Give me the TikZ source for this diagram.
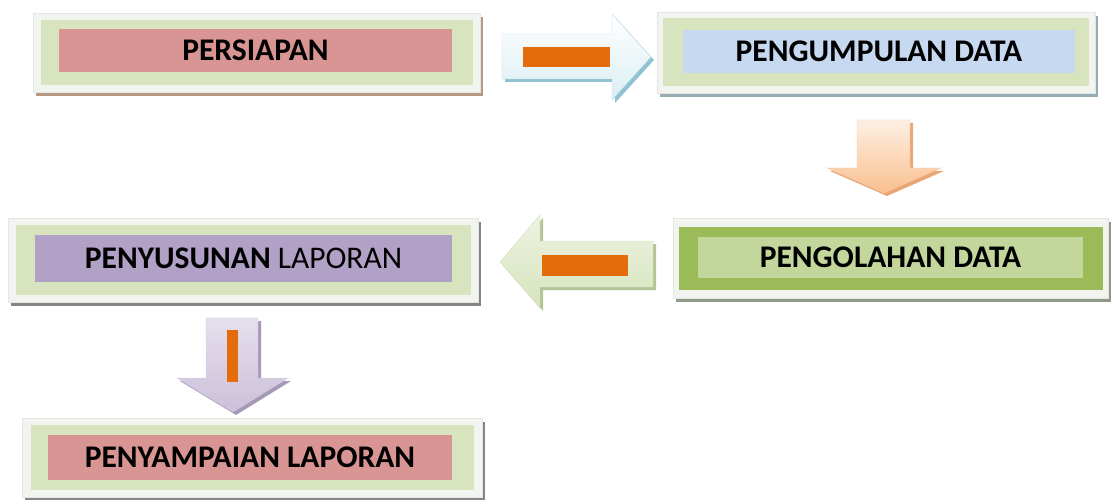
\documentclass[tikz,border=0pt]{standalone}
\usepackage{fontspec}
\setmainfont{Carlito}

\definecolor{frameC}{HTML}{F2F5EF}
\definecolor{bandC}{HTML}{D7E4BD}
\definecolor{roseC}{HTML}{D99594}
\definecolor{skyC}{HTML}{C6D9F1}
\definecolor{oliveC}{HTML}{9BBB59}
\definecolor{leafC}{HTML}{C3D69B}
\definecolor{lilacC}{HTML}{B2A1C7}
\definecolor{barC}{HTML}{E46C0A}
\definecolor{tanS}{HTML}{B8987E}
\definecolor{blueS}{HTML}{97ADB3}
\definecolor{greenS}{HTML}{8F9A86}
\definecolor{grayS}{HTML}{858585}
\definecolor{iceC}{HTML}{DAEEF3}
\definecolor{iceS}{HTML}{8FC3D3}
\definecolor{peachC}{HTML}{F9C08F}
\definecolor{peachS}{HTML}{E9A574}
\definecolor{mauveC}{HTML}{CCC0DA}
\definecolor{mauveS}{HTML}{A598B8}
\definecolor{sageS}{HTML}{B3C495}

\tikzstyle{stage frame}=[rectangle, fill=frameC, draw=black!10, inner sep=0pt]
\tikzstyle{stage band}=[rectangle, inner sep=0pt]
\tikzstyle{stage core}=[rectangle, inner sep=0pt, font=\fontsize{31.5}{36}\selectfont]
\tikzstyle{arrow shadow}=[shift={(3,3)}]
\tikzstyle{bar}=[fill=barC]

% frame centre / frame size / band size / core centre / core size / colours / name / text
\def\stages{{(256.5,52.5)/447/79/432/65/(255.5,50.5)/393/43/bandC/roseC/tanS/persiapan/\textbf{PERSIAPAN}},
  {(876,52.5)/438/81/426/68/(879,51.5)/392/43/bandC/skyC/blueS/pengumpulan/\textbf{PENGUMPULAN DATA}},
  {(890.5,258)/435/80/424/63/(890.5,257.5)/385/41/oliveC/leafC/greenS/pengolahan/\textbf{PENGOLAHAN DATA}},
  {(243,260)/470/84/455/70/(243.5,258.5)/417/47/bandC/lilacC/grayS/penyusunan/\textbf{PENYUSUNAN} LAPORAN},
  {(252,457.5)/460/79/443/65/(250,457.5)/404/45/bandC/roseC/grayS/penyampaian/\textbf{PENYAMPAIAN LAPORAN}}}

\def\rightArrow{(502,34) -- (612,34) -- (612,14) -- (651,57) -- (612,100) -- (612,79) -- (502,79) -- cycle}
\def\peachArrow{(857,120) -- (910,120) -- (910,168) -- (941,168) -- (884,193) -- (827,168) -- (857,168) -- cycle}
\def\leftArrow{(653,241) -- (540,241) -- (540,215) -- (500,262) -- (540,308) -- (540,287) -- (653,287) -- cycle}
\def\lilacArrow{(206,318) -- (258,318) -- (258,378) -- (288,378) -- (233,412) -- (177,378) -- (206,378) -- cycle}

\begin{document}
\begin{tikzpicture}[x=1pt,y=-1pt]
  \useasboundingbox (0,0) rectangle (1112,500);

  \foreach \pos/\fw/\fh/\bw/\bh/\cpos/\cw/\ch/\bandcol/\corecol/\shadecol/\name/\txt in \stages {
    \node[stage frame, fill=\shadecol, draw=none, xshift=3pt, yshift=-4pt,
      minimum width=\fw pt, minimum height=\fh pt] (\name-) at \pos {};
    \node[stage frame, minimum width=\fw pt, minimum height=\fh pt] (\name) at \pos {};
    \node[stage band, fill=\bandcol, minimum width=\bw pt, minimum height=\bh pt] at \pos {};
    \node[stage core, fill=\corecol, minimum width=\cw pt, minimum height=\ch pt] (\name-text) at \cpos {\txt};
    }

  % block arrows
  \path[fill=iceS, arrow shadow] \rightArrow;
  \path[top color=white, bottom color=iceC, draw=iceS!60] \rightArrow;
  \fill[bar] (523,47) rectangle (610,67);

  \path[fill=peachS, arrow shadow] \peachArrow;
  \path[top color=white!75!peachC, bottom color=peachC, draw=peachS!60] \peachArrow;

  \path[fill=sageS, arrow shadow] \leftArrow;
  \path[top color=white!55!bandC, bottom color=bandC, draw=sageS!60] \leftArrow;
  \fill[bar] (542,255) rectangle (628,276);

  \path[fill=mauveS, arrow shadow] \lilacArrow;
  \path[top color=white!50!mauveC, bottom color=mauveC, draw=mauveS!50] \lilacArrow;
  \fill[bar] (227,330) rectangle (238,382);

\end{tikzpicture}
\end{document}
